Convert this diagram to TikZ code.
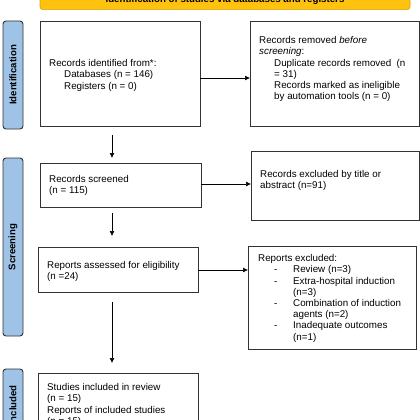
\documentclass[tikz,border=0pt]{standalone}
\usepackage{fontspec}
\setmainfont{Liberation Sans}
\usetikzlibrary{arrows.meta}
\definecolor{bannerfill}{HTML}{FFC20E}
\definecolor{bannerdraw}{HTML}{D9A000}
\definecolor{labfill}{HTML}{9FC2E7}
\definecolor{edge}{HTML}{333333}
\begin{document}
\begin{tikzpicture}[x=1pt,y=-1pt,
  box/.style={draw=edge, line width=0.9pt, fill=white, inner sep=0pt, anchor=north west},
  txt/.style={anchor=north west, inner sep=0pt, align=left, font=\fontsize{9.8}{11.2}\selectfont},
  lab/.style={draw=edge, fill=labfill, rounded corners=3pt, line width=0.9pt, rotate=90,
    minimum height=20pt, inner sep=0pt, font=\fontsize{9.6}{11}\selectfont\bfseries},
  banner/.style={draw=bannerdraw, fill=bannerfill, rounded corners=3pt, line width=0.6pt,
    inner sep=0pt, font=\fontsize{9.7}{11}\selectfont\bfseries},
  arr/.style={-{Latex[length=5pt,width=5pt]}, line width=0.7pt, black}]
\useasboundingbox (0,0) rectangle (420,420);
\clip (0,0) rectangle (420,420);
\fill[white] (0,0) rectangle (420,420);

% banner
\node[banner, minimum width=370pt, minimum height=19pt, anchor=south] (ban) at (225,10)
  {Identification of studies via databases and registers};

% side labels
\node[lab, minimum width=108pt] (l1) at (13,75) {Identification};
\node[lab, minimum width=178pt] (l2) at (13,247) {Screening};
\node[lab, minimum width=72pt] (l3) at (13,405) {Included};

% boxes
\node[box, minimum width=160pt, minimum height=105pt] (b1) at (40,21) {};
\node[box, minimum width=169pt, minimum height=105pt] (b2) at (250,21) {};
\node[box, minimum width=161pt, minimum height=44pt] (b3) at (40,163) {};
\node[box, minimum width=168pt, minimum height=69pt] (b4) at (251,151) {};
\node[box, minimum width=160pt, minimum height=45pt] (b5) at (38,247) {};
\node[box, minimum width=168pt, minimum height=103pt] (b6) at (248,246) {};
\node[box, minimum width=160pt, minimum height=70pt] (b7) at (38,373) {};

% texts
\node[txt] (t1) at (49,59.3) {Records identified from*:\\
  \hspace*{15pt}Databases (n = 146)\\
  \hspace*{15pt}Registers (n = 0)};
\node[txt] (t2) at (259,36.3) {Records removed \textit{before}\\
  \textit{screening}:\\
  \hspace*{15pt}Duplicate records removed~ (n\\
  \hspace*{15pt}= 31)\\
  \hspace*{15pt}Records marked as ineligible\\
  \hspace*{15pt}by automation tools (n = 0)};
\node[txt] (t3) at (49,175.3) {Records screened\\(n = 115)};
\node[txt] (t4) at (260,170.3) {Records excluded by title or\\abstract (n=91)};
\node[txt] (t5) at (47,261.3) {Reports assessed for eligibility\\(n =24)};
\node[txt] (t6) at (258,254.3) {Reports excluded:\\
  \makebox[35pt][l]{\hspace*{16pt}-}Review (n=3)\\
  \makebox[35pt][l]{\hspace*{16pt}-}Extra-hospital induction\\
  \hspace*{35pt}(n=3)\\
  \makebox[35pt][l]{\hspace*{16pt}-}Combination of induction\\
  \hspace*{35pt}agents (n=2)\\
  \makebox[35pt][l]{\hspace*{16pt}-}Inadequate outcomes\\
  \hspace*{35pt}(n=1)};
\node[txt] (t7) at (47,383.3) {Studies included in review\\(n = 15)\\
  Reports of included studies\\(n = 15)};

% horizontal arrows
\coordinate (h1) at (200,78);
\coordinate (h2) at (201,184);
\coordinate (h3) at (198,270);
\draw[arr] (h1) -- (h1 -| b2.west);
\draw[arr] (h2) -- (h2 -| b4.west);
\draw[arr] (h3) -- (h3 -| b6.west);

% vertical arrows
\coordinate (v1) at (112,135);
\coordinate (v2) at (112,213);
\coordinate (v3) at (112,302);
\draw[arr] (v1) -- ([yshift=5pt]v1 |- b3.north);
\draw[arr] (v2) -- ([yshift=11pt]v2 |- b5.north);
\draw[arr] (v3) -- ([yshift=10pt]v3 |- b7.north);
\end{tikzpicture}
\end{document}
